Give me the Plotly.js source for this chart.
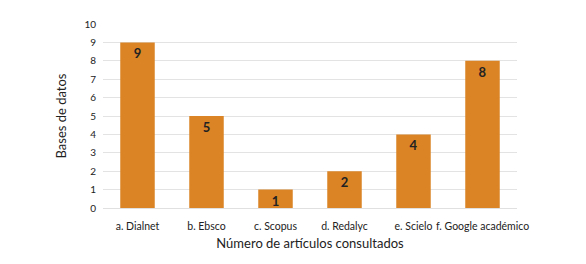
<!DOCTYPE html>
<html><head><meta charset="utf-8">
<script src="https://cdn.plot.ly/plotly-3.0.1.min.js"></script>
<style>html,body{margin:0;padding:0;background:#fff}#c{width:586px;height:264px}</style>
</head><body><div id="c"></div>
<script>
const categories = ["a. Dialnet","b. Ebsco","c. Scopus","d. Redalyc","e. Scielo","f. Google académico"];
const values = [9,5,1,2,4,8];
const yTicks = [0,1,2,3,4,5,6,7,8,9,10];

Plotly.newPlot('c',[{
  type:'bar', x:categories, y:values,
  marker:{color:'#DA8426'},
  text:values.map(String), textposition:'inside', insidetextanchor:'end', textangle:0, constraintext:'none',
  textfont:{family:'Lato, sans-serif', size:13, color:'#222', weight:'bold'},
  cliponaxis:false, hoverinfo:'none'
}],{
  width:586,height:264,
  margin:{l:103,r:69,t:24,b:56},
  paper_bgcolor:'#fff',plot_bgcolor:'#fff',
  bargap:0.5,
  font:{family:'Lato, sans-serif',color:'#222'},
  xaxis:{tickfont:{size:10.5},showgrid:false,zeroline:false,showline:true,linecolor:'#e0e0e0',ticks:'',ticklabelstandoff:8,
    title:{text:'Número de artículos consultados',font:{size:13},standoff:8}},
  yaxis:{range:[0,10],tickvals:yTicks,ticktext:yTicks.map(String),tickfont:{size:10},gridcolor:'#e3e3e3',zeroline:false,ticks:'',ticklabelstandoff:6,
    title:{text:'Bases de datos',font:{size:13},standoff:14}},
  showlegend:false
},{displayModeBar:false,staticPlot:true});
</script></body></html>
